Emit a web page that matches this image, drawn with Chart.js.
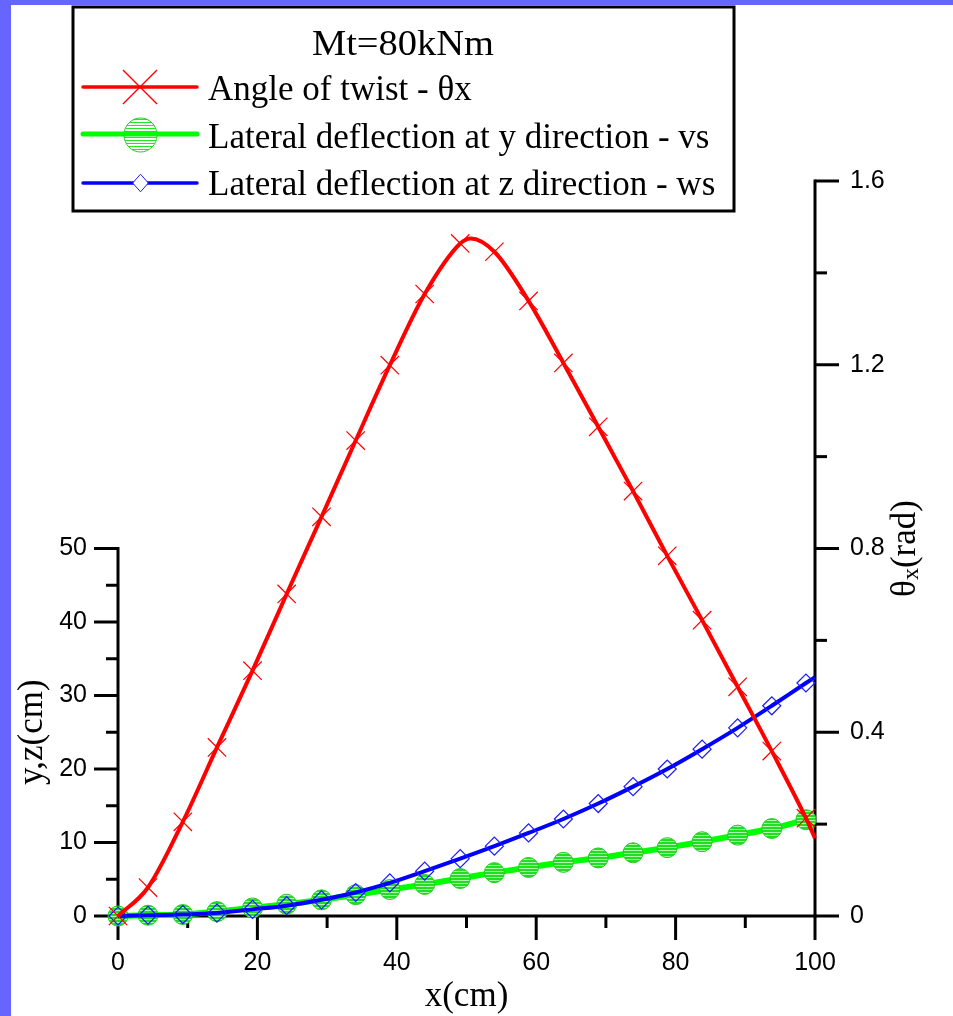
<!DOCTYPE html>
<html>
<head>
<meta charset="utf-8">
<script src="https://cdn.jsdelivr.net/npm/chart.js@4.4.0/dist/chart.umd.min.js"></script>
<style>
  html, body { margin:0; padding:0; background:#6666ff; overflow:hidden; }
  #wrap { position:absolute; left:11px; top:5px; width:942px; height:1011px; background:#fff; }
</style>
</head>
<body>
<div id="wrap"><canvas id="chart" width="942" height="1011"></canvas></div>
<script>
// positions of the symbols along the beam, x(cm)
const xMarks = [0, 4.3, 9.3, 14.2, 19.3, 24.2, 29.2, 34.1, 39.0, 44.0, 49.1,
                54.0, 58.9, 63.9, 68.9, 73.9, 78.8, 83.8, 88.9, 93.8, 98.7];
// angle of twist (rad), right axis
const twistMarks = [0, 0.062, 0.205, 0.367, 0.534, 0.701, 0.869, 1.035, 1.199, 1.354, 1.464,
                    1.446, 1.339, 1.204, 1.065, 0.925, 0.784, 0.644, 0.499, 0.359, 0.213];
// lateral deflection y direction (cm)
const vsMarks = [0, 0.1, 0.2, 0.6, 1.1, 1.6, 2.2, 2.9, 3.6, 4.3, 5.1,
                 5.9, 6.6, 7.3, 7.9, 8.6, 9.3, 10.1, 11.0, 11.9, 13.1];
// lateral deflection z direction (cm)
const wsMarks = [0, 0.1, 0.2, 0.4, 0.9, 1.4, 2.2, 3.2, 4.5, 6.1, 7.8,
                 9.5, 11.3, 13.2, 15.3, 17.6, 20.0, 22.7, 25.6, 28.6, 31.7];

// points read off the curves where no symbol is drawn
const twistExtraX = [50.6, 100];
const twistExtraY = [1.475, 0.169];
const vsExtraX = [100];
const vsExtraY = [13.4];
const wsExtraX = [100];
const wsExtraY = [32.5];

// axis ticks
const xTicks = [0, 20, 40, 60, 80, 100];
const leftTicks = [0, 10, 20, 30, 40, 50];
const rightTicks = [0, 0.4, 0.8, 1.2, 1.6];
const rightTickLabels = ['0', '0.4', '0.8', '1.2', '1.6'];

const legendTitle = 'Mt=80kNm';
const seriesNames = ['Angle of twist - θx', 'Lateral deflection at y direction - vs', 'Lateral deflection at z direction - ws'];

const RED = '#ff0000', GREEN = '#00ff00', BLUE = '#0000ff';
const RED_MARK = '#ff0000', GREEN_MARK = '#22cc22', BLUE_MARK = '#1a1aff';

function buildSeries(xs, ys, ex, ey){
	let pts = [];
	for(let i=0;i<xs.length;i++) pts.push({x: xs[i], y: ys[i], m: true});
	for(let i=0;i<ex.length;i++) pts.push({x: ex[i], y: ey[i], m: false});
	pts.sort((a,b) => a.x - b.x);
	return pts;
}

const canvas = document.getElementById('chart');
const ctx = canvas.getContext('2d');

function stripes(bg, fg, lines){
	let c = document.createElement('canvas');
	c.width = 4; c.height = 3;
	let g = c.getContext('2d');
	g.fillStyle = bg; g.fillRect(0,0,4,3);
	g.fillStyle = fg; g.fillRect(0,0,4,lines);
	return ctx.createPattern(c, 'repeat');
}
const plotHatch = stripes('#a8ffa8', '#22dd22', 2);
const legendHatch = stripes('#ffffff', '#22e622', 1);

const mark = r => (c => (c.raw && c.raw.m) ? r : 0);

const tickFont = {family: 'Liberation Sans', size: 25};
const serif = '"Liberation Serif", "Times New Roman", serif';

function line(c, x1, y1, x2, y2){
	c.beginPath(); c.moveTo(x1, y1); c.lineTo(x2, y2); c.stroke();
}

const framePlugin = {
	id: 'frame',
	beforeDatasetsDraw(chart){
		const c = chart.ctx;
		const {x, y, y1} = chart.scales;
		const majorLen = 24, minorLen = 12;
		const yb = y.getPixelForValue(0);
		const xl = x.getPixelForValue(xTicks[0]);
		const xr = x.getPixelForValue(xTicks[xTicks.length-1]);
		c.save();
		c.strokeStyle = '#000';
		c.lineWidth = 3;
		c.lineCap = 'square';
		line(c, xl, yb, xr, yb);
		line(c, xl, y.getPixelForValue(leftTicks[leftTicks.length-1]), xl, yb);
		line(c, xr, y1.getPixelForValue(rightTicks[rightTicks.length-1]), xr, yb);
		c.lineCap = 'butt';
		// bottom ticks
		xTicks.forEach((v, i) => {
			let p = x.getPixelForValue(v);
			line(c, p, yb, p, yb + majorLen);
			if(i > 0){
				let q = x.getPixelForValue((v + xTicks[i-1]) / 2);
				line(c, q, yb, q, yb + minorLen);
			}
		});
		// left ticks
		leftTicks.forEach((v, i) => {
			let p = y.getPixelForValue(v);
			line(c, xl - majorLen, p, xl, p);
			if(i > 0){
				let q = y.getPixelForValue((v + leftTicks[i-1]) / 2);
				line(c, xl - minorLen, q, xl, q);
			}
		});
		// right ticks
		rightTicks.forEach((v, i) => {
			let p = y1.getPixelForValue(v);
			line(c, xr, p, xr + majorLen, p);
			if(i > 0){
				let q = y1.getPixelForValue((v + rightTicks[i-1]) / 2);
				line(c, xr, q, xr + minorLen, q);
			}
		});
		c.restore();
	},
	afterDraw(chart){
		const c = chart.ctx;
		const {x, y, y1} = chart.scales;
		const area = chart.chartArea;
		c.save();
		c.fillStyle = '#000';
		c.textBaseline = 'middle';
		c.font = '35px ' + serif;

		// x title
		c.textAlign = 'center';
		c.fillText('x(cm)', (x.left + x.right) / 2, area.bottom + 81);

		// left title, centred on the 0..50 part of the axis
		c.save();
		c.translate(area.left - 85, (y.getPixelForValue(0) + y.getPixelForValue(50)) / 2);
		c.rotate(-Math.PI / 2);
		c.fillText('y,z(cm)', 0, 0);
		c.restore();

		// right title θx(rad) with subscript
		c.save();
		c.translate(area.right + 91, (y1.top + y1.bottom) / 2);
		c.rotate(-Math.PI / 2);
		c.textAlign = 'left';
		c.font = '35px ' + serif;
		let w1 = c.measureText('θ').width, w3 = c.measureText('(rad)').width;
		c.font = '24px ' + serif;
		let w2 = c.measureText('x').width;
		let s = -(w1 + w2 + w3) / 2;
		c.font = '35px ' + serif;
		c.fillText('θ', s, 0);
		c.font = '24px ' + serif;
		c.fillText('x', s + w1, 6);
		c.font = '35px ' + serif;
		c.fillText('(rad)', s + w1 + w2, 0);
		c.restore();

		// legend box
		c.lineWidth = 3;
		c.strokeStyle = '#000';
		c.strokeRect(62, 2, 661, 204);
		c.textBaseline = 'alphabetic';
		c.textAlign = 'center';
		c.font = '35px ' + serif;
		c.save();
		c.translate(392, 50);
		c.scale(1.1, 1);
		c.fillText(legendTitle, 0, 0);
		c.restore();

		const colors = [RED, GREEN, BLUE];
		const rowsY = [82, 129, 178];
		const textY = [95, 143, 190];
		c.textAlign = 'left';
		for(let i=0;i<3;i++){
			c.strokeStyle = colors[i];
			c.lineWidth = i == 1 ? 5 : 3.5;
			c.lineCap = 'round';
			line(c, 72, rowsY[i], 186, rowsY[i]);
			c.lineCap = 'butt';
			c.fillStyle = '#000';
			c.fillText(seriesNames[i], 197, textY[i]);
		}
		// legend symbols
		c.lineWidth = 1.4;
		c.strokeStyle = RED_MARK;
		c.beginPath();
		c.moveTo(112, 65); c.lineTo(146, 99);
		c.moveTo(146, 65); c.lineTo(112, 99);
		c.stroke();
		c.lineWidth = 1;
		c.beginPath();
		c.ellipse(129.5, 130, 16.5, 17, 0, 0, Math.PI * 2);
		c.fillStyle = legendHatch;
		c.fill();
		c.strokeStyle = GREEN_MARK;
		c.stroke();
		// green line runs across the hatched symbol
		c.strokeStyle = GREEN;
		c.lineWidth = 5;
		line(c, 113, 129, 146, 129);
		c.lineWidth = 1;
		c.beginPath();
		c.moveTo(121.7, 178); c.lineTo(129.5, 169.2); c.lineTo(137.3, 178); c.lineTo(129.5, 186.8); c.closePath();
		c.fillStyle = '#fff';
		c.fill();
		c.strokeStyle = BLUE_MARK;
		c.stroke();
		c.restore();
	}
};

const scaleBase = {
	grid: {display: false, drawTicks: false},
	border: {display: false},
	ticks: {font: tickFont, color: '#000', maxRotation: 0, autoSkip: false}
};

new Chart(ctx, {
	type: 'line',
	data: {
		datasets: [{
			label: seriesNames[0],
			data: buildSeries(xMarks, twistMarks, twistExtraX, twistExtraY),
			yAxisID: 'y1',
			borderColor: RED,
			borderWidth: 4,
			pointStyle: 'crossRot',
			pointRadius: mark(13),
			pointBorderColor: RED_MARK,
			pointBorderWidth: 1.2,
			pointBackgroundColor: 'rgba(0,0,0,0)',
			cubicInterpolationMode: 'monotone',
			clip: false,
			order: 1
		}, {
			label: seriesNames[1],
			data: buildSeries(xMarks, vsMarks, vsExtraX, vsExtraY),
			yAxisID: 'y',
			borderColor: GREEN,
			borderWidth: 6,
			pointStyle: 'circle',
			pointRadius: mark(10),
			pointBorderColor: GREEN_MARK,
			pointBorderWidth: 1,
			pointBackgroundColor: plotHatch,
			cubicInterpolationMode: 'monotone',
			clip: false,
			order: 3
		}, {
			label: seriesNames[2],
			data: buildSeries(xMarks, wsMarks, wsExtraX, wsExtraY),
			yAxisID: 'y',
			borderColor: BLUE,
			borderWidth: 4,
			pointStyle: 'rectRot',
			pointRadius: mark(9),
			pointBorderColor: BLUE_MARK,
			pointBorderWidth: 1.2,
			pointBackgroundColor: 'rgba(0,0,0,0)',
			cubicInterpolationMode: 'monotone',
			clip: false,
			order: 2
		}]
	},
	options: {
		responsive: false,
		animation: false,
		layout: {padding: {top: 176, left: 0, right: 0, bottom: 0}},
		plugins: {legend: {display: false}, tooltip: {enabled: false}},
		scales: {
			x: Object.assign({}, scaleBase, {
				type: 'linear', position: 'bottom', min: 0, max: 100,
				ticks: Object.assign({}, scaleBase.ticks, {padding: 32}),
				afterBuildTicks: s => { s.ticks = xTicks.map(v => ({value: v})); },
				afterFit: s => { s.height = 100; }
			}),
			y: Object.assign({}, scaleBase, {
				type: 'linear', position: 'left', min: 0, max: 100,
				ticks: Object.assign({}, scaleBase.ticks, {padding: 31}),
				afterBuildTicks: s => { s.ticks = leftTicks.map(v => ({value: v})); },
				afterFit: s => { s.width = 107; }
			}),
			y1: Object.assign({}, scaleBase, {
				type: 'linear', position: 'right', min: 0, max: 1.6,
				ticks: Object.assign({}, scaleBase.ticks, {padding: 35,
					callback: v => rightTickLabels[rightTicks.indexOf(v)]}),
				afterBuildTicks: s => { s.ticks = rightTicks.map(v => ({value: v})); },
				afterFit: s => { s.width = 138; }
			})
		}
	},
	plugins: [framePlugin]
});
</script>
</body>
</html>
